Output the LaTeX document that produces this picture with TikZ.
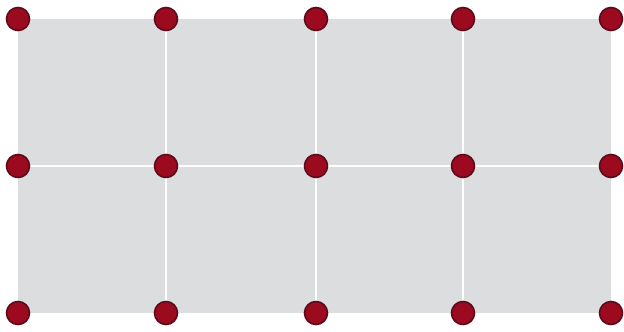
\documentclass[tikz,border=0pt]{standalone}
\definecolor{cellgray}{HTML}{DCDDDF}
\definecolor{dotred}{HTML}{9C0A1F}
\definecolor{dotrim}{HTML}{5C0B1B}
\begin{document}
\begin{tikzpicture}[x=1pt,y=-1pt,
  dot/.style={circle,draw=dotrim,line width=1.6pt,fill=dotred,minimum size=23pt,inner sep=0pt},
  gap/.style={white,line width=2pt}]
\useasboundingbox (0,0) rectangle (624,332);
% grid points
\foreach \r/\y in {1/19,2/166,3/313}
  \foreach \c/\x in {1/18,2/166,3/316,4/463,5/611}
    \coordinate (p-\r-\c) at (\x,\y);
\fill[cellgray] (p-1-1) rectangle (p-3-5);
\foreach \c in {2,3,4}
  \draw[gap] (p-1-\c) -- (p-3-\c);
\draw[gap] (p-2-1) -- (p-2-5);
\foreach \r in {1,2,3}
  \foreach \c in {1,...,5}
    \node[dot] (d-\r-\c) at (p-\r-\c) {};
\end{tikzpicture}
\end{document}
